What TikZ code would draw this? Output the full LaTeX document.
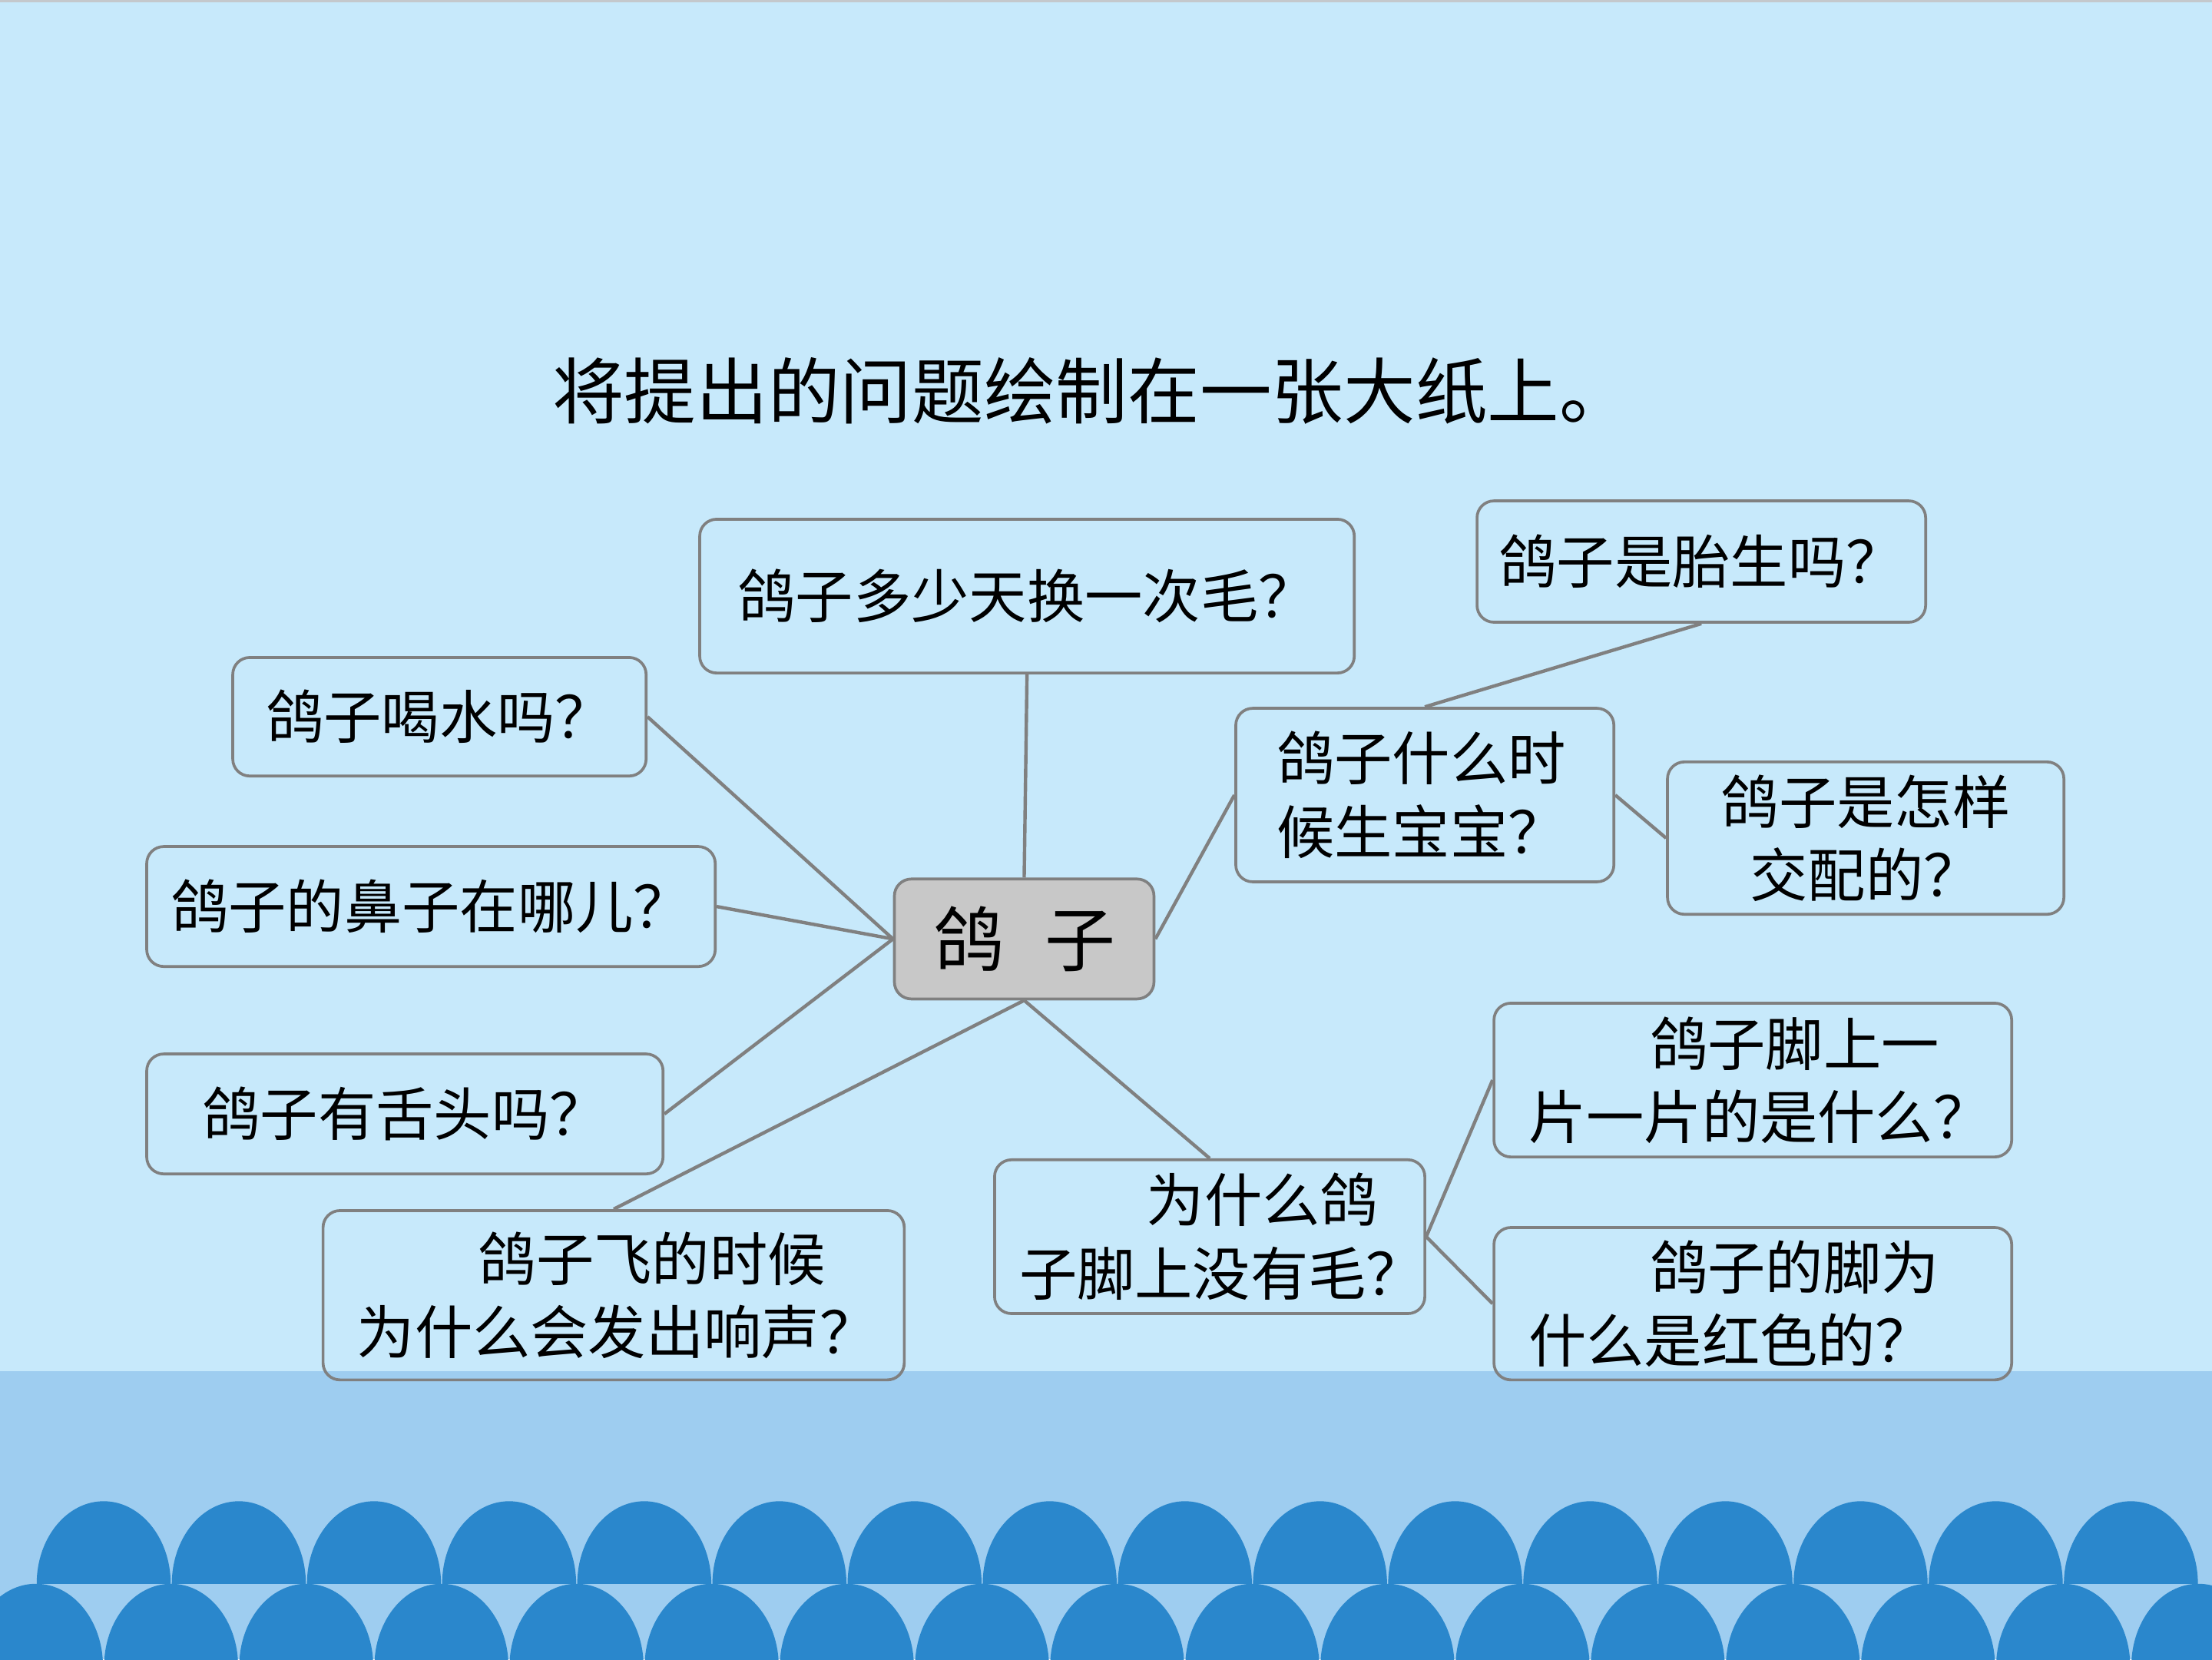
\documentclass[tikz,border=0pt]{standalone}
\usepackage{fontspec}
\newfontfamily\cjk{Noto Sans CJK SC}
\setlength{\parindent}{0pt}
\definecolor{skyA}{RGB}{199,233,251}
\definecolor{skyB}{RGB}{158,205,240}
\definecolor{wave}{RGB}{42,135,204}
\definecolor{linegray}{RGB}{128,128,128}
\definecolor{hubfill}{RGB}{200,200,200}
\definecolor{topline}{RGB}{196,200,204}
\tikzset{
  qbox/.style={draw=linegray, line width=2pt, rounded corners=12pt, inner sep=0pt,
    align=center, font=\cjk\fontsize{41}{52}\selectfont},
  hubbox/.style={qbox, fill=hubfill, font=\cjk\fontsize{50}{60}\selectfont},
  link/.style={draw=linegray, line width=2.4pt},
  titletext/.style={font=\cjk\fontsize{51}{60}\selectfont, inner sep=0pt},
}
\begin{document}
\begin{tikzpicture}[x=1pt,y=-1pt]
\useasboundingbox (0,0) rectangle (1568,1176);
\clip (0,0) rectangle (1568,1176);
% background
\fill[skyA] (0,0) rectangle (1568,972);
\fill[skyB] (0,972) rectangle (1568,1176);
\fill[topline] (0,0) rectangle (1568,1.6);
% waves, back row
\foreach \k in {0,...,15} {
  \pgfmathsetmacro\cx{73.5+95.8*\k}
  \fill[wave] (\cx-47.5,1122.5) .. controls (\cx-47.5,1090.2) and (\cx-26.2,1064) .. (\cx,1064)
    .. controls (\cx+26.2,1064) and (\cx+47.5,1090.2) .. (\cx+47.5,1122.5) -- cycle;
}
% waves, front row
\foreach \k in {0,...,16} {
  \pgfmathsetmacro\cx{25.5+95.8*\k}
  \fill[wave] (\cx-47.5,1181) .. controls (\cx-47.5,1148.7) and (\cx-26.2,1122.5) .. (\cx,1122.5)
    .. controls (\cx+26.2,1122.5) and (\cx+47.5,1148.7) .. (\cx+47.5,1181) -- cycle;
}
% title
\node[titletext] (title) at (774,277) {将提出的问题绘制在一张大纸上。};
% boxes
\node[hubbox, minimum width=184, minimum height=85] (hub) at (726,665.5) {鸽\hspace{29pt}子};
\node[qbox, minimum width=464, minimum height=109] (b2) at (728,422.5) {鸽子多少天换一次毛？};
\node[qbox, minimum width=318, minimum height=86] (b3) at (1206,398) {鸽子是胎生吗？};
\node[qbox, minimum width=293, minimum height=84] (b4) at (311.5,508) {鸽子喝水吗？};
\node[qbox, minimum width=268, minimum height=123, text width=210, align=left] (b5) at (1010,563.5) {鸽子什么时\\候生宝宝？};
\node[qbox, minimum width=281, minimum height=108] (b6) at (1322.5,594) {鸽子是怎样\\交配的？};
\node[qbox, minimum width=403, minimum height=85] (b7) at (305.5,642.5) {鸽子的鼻子在哪儿？};
\node[qbox, minimum width=367, minimum height=109, text width=318, align=left] (b9) at (1242.5,765.5) {\hspace*{2.1em}鸽子脚上一\\片一片的是什么？};
\node[qbox, minimum width=366, minimum height=85] (b10) at (287,789.5) {鸽子有舌头吗？};
\node[qbox, minimum width=305, minimum height=109, text width=270, align=left] (b11) at (857.5,876.5) {\hspace*{2.2em}为什么鸽\\子脚上没有毛？};
\node[qbox, minimum width=412, minimum height=120, text width=364, align=left] (b12) at (435,918) {\hspace*{2.1em}鸽子飞的时候\\为什么会发出响声？};
\node[qbox, minimum width=367, minimum height=108, text width=318, align=left] (b13) at (1242.5,924) {\hspace*{2.1em}鸽子的脚为\\什么是红色的？};
% connectors
\draw[link] (hub.north) -- (b2.south);
\draw[link] (b4.east) -- (hub.west);
\draw[link] (b7.east) -- (hub.west);
\draw[link] (b10.east) -- (hub.west);
\draw[link] (hub.south) -- (b12.north);
\draw[link] (hub.south) -- (b11.north);
\draw[link] (hub.east) -- (b5.west);
\draw[link] (b5.north) -- (b3.south);
\draw[link] (b5.east) -- (b6.west);
\draw[link] (b11.east) -- (b9.west);
\draw[link] (b11.east) -- (b13.west);
\end{tikzpicture}
\end{document}
